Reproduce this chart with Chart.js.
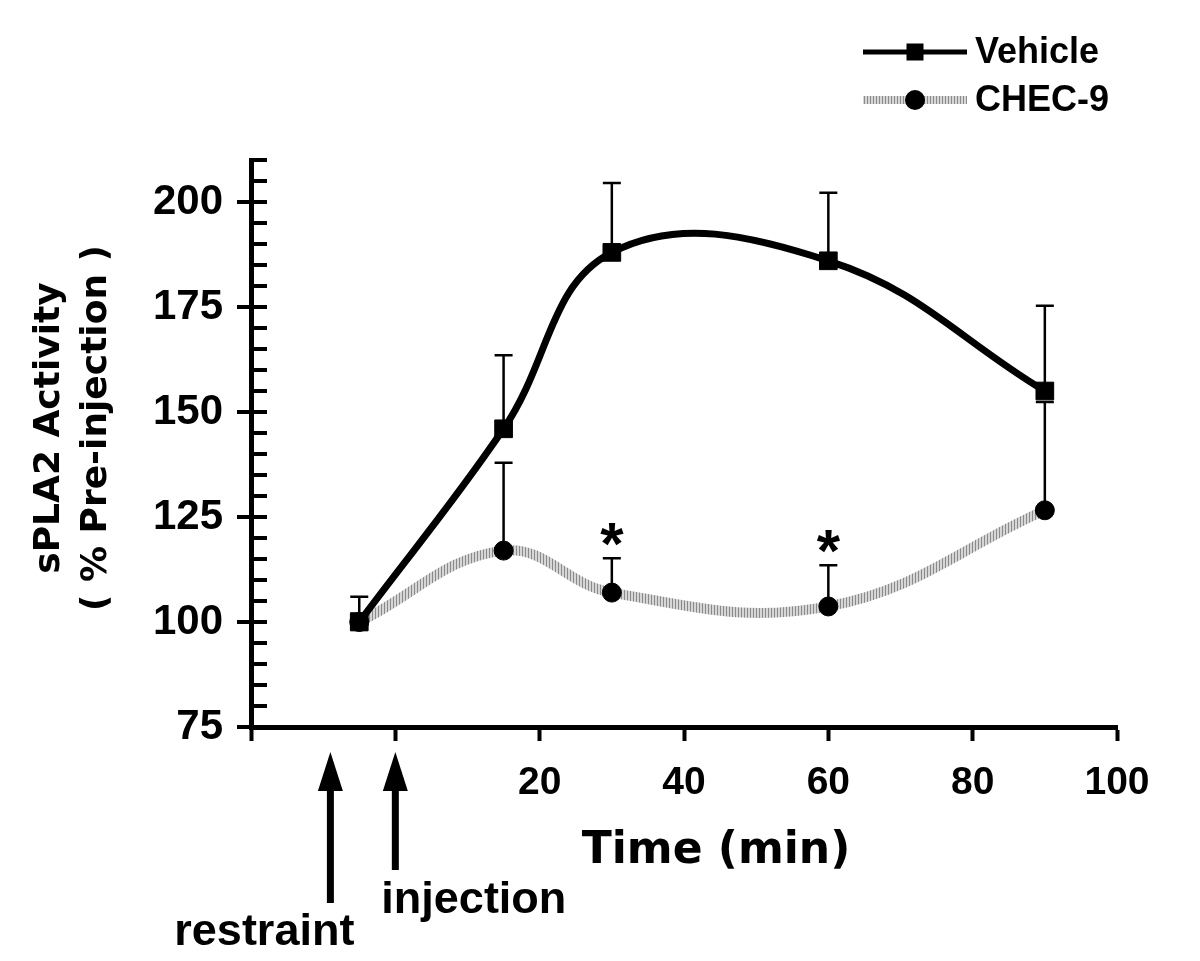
<!DOCTYPE html>
<html>
<head>
<meta charset="utf-8">
<script src="https://cdn.jsdelivr.net/npm/chart.js@4/dist/chart.umd.min.js"></script>
<style>
  html, body { margin: 0; padding: 0; background: #fff; }
</style>
</head>
<body>
<canvas id="myChart" width="1200" height="961"></canvas>
<script>
// values
const times = [-5, 15, 30, 60, 90];
const vehicleMean = [100, 146, 188, 186, 155];
const vehicleSem = [6, 17.5, 16.5, 16.2, 20.3];
const chec9Mean = [100, 117, 107, 103.7, 126.6];
const chec9Sem = [2, 20.9, 8.2, 9.8, 25.8];
const sigTimes = [30, 60]; // * over CHEC-9
const xTickLabels = [20, 40, 60, 80, 100];
const yTickLabels = [75, 100, 125, 150, 175, 200];
const eventTimes = [-9, 0];
const eventLabels = ['restraint', 'injection'];
const xTitle = 'Time (min)';
const yTitle = ['sPLA2 Activity', '( % Pre-injection )'];

const canvas = document.getElementById('myChart');
const ctx = canvas.getContext('2d');

// gray hatched line like the original
function hatch() {
  const c = document.createElement('canvas');
  c.width = 3; c.height = 1;
  const g = c.getContext('2d');
  g.fillStyle = '#d6d6d6';
  g.fillRect(0, 0, 3, 1);
  g.fillStyle = '#8a8a8a';
  g.fillRect(0, 0, 1, 1);
  return ctx.createPattern(c, 'repeat');
}
const grayHatch = hatch();

const errs = [vehicleSem, chec9Sem];
const sans = '"Liberation Sans", Arial, sans-serif';
const wide = '"DejaVu Sans", Verdana, sans-serif';

const errorBars = {
  id: 'errorBars',
  beforeDatasetsDraw(chart) {
    const { ctx, scales: { x, y } } = chart;
    ctx.save();
    ctx.strokeStyle = '#000';
    ctx.lineWidth = 2.5;
    chart.data.datasets.forEach((ds, d) => {
      ds.data.forEach((p, i) => {
        const px = x.getPixelForValue(p.x);
        const y0 = y.getPixelForValue(p.y);
        const y1 = y.getPixelForValue(p.y + errs[d][i]);
        ctx.beginPath();
        ctx.moveTo(px, y0);
        ctx.lineTo(px, y1);
        ctx.moveTo(px - 9, y1);
        ctx.lineTo(px + 9, y1);
        ctx.stroke();
      });
    });
    ctx.restore();
  }
};

// y ticks: major ones cross the axis, minor ones only inside
const yTickMarks = {
  id: 'yTickMarks',
  afterDraw(chart) {
    const { ctx, chartArea, scales: { y } } = chart;
    ctx.save();
    ctx.strokeStyle = '#000';
    ctx.lineWidth = 4;
    y.ticks.forEach(t => {
      const py = Math.round(y.getPixelForValue(t.value));
      const major = yTickLabels.includes(t.value);
      ctx.beginPath();
      ctx.moveTo(chartArea.left - (major ? 14 : 0), py);
      ctx.lineTo(chartArea.left + 16, py);
      ctx.stroke();
    });
    ctx.restore();
  }
};

const notes = {
  id: 'notes',
  afterDraw(chart) {
    const { ctx, chartArea, scales: { x, y } } = chart;
    ctx.save();
    ctx.fillStyle = '#000';
    ctx.strokeStyle = '#000';

    // axis titles (placed off-centre as in the original)
    ctx.font = 'bold 44px ' + wide;
    ctx.textAlign = 'center';
    ctx.textBaseline = 'middle';
    ctx.fillText(xTitle, chartArea.left + 465, 852);
    ctx.save();
    ctx.translate(50, 428);
    ctx.rotate(-Math.PI / 2);
    ctx.font = 'bold 36px ' + wide;
    yTitle.forEach((line, i) => ctx.fillText(line, 0, i * 47));
    ctx.restore();

    // event arrows under the axis
    const tipY = chartArea.bottom + 25;
    const tailY = [903, 870];
    eventTimes.forEach((t, i) => {
      const px = x.getPixelForValue(t);
      ctx.lineWidth = 7;
      ctx.beginPath();
      ctx.moveTo(px, tipY + 30);
      ctx.lineTo(px, tailY[i]);
      ctx.stroke();
      ctx.beginPath();
      ctx.moveTo(px, tipY);
      ctx.lineTo(px - 12.5, tipY + 39);
      ctx.lineTo(px + 12.5, tipY + 39);
      ctx.closePath();
      ctx.fill();
    });
    ctx.font = 'bold 45px ' + sans;
    ctx.textBaseline = 'alphabetic';
    ctx.textAlign = 'right';
    ctx.fillText(eventLabels[0], x.getPixelForValue(eventTimes[0]) + 24, 945);
    ctx.textAlign = 'left';
    ctx.fillText(eventLabels[1], x.getPixelForValue(eventTimes[1]) - 14, 913);

    // significance marks
    ctx.font = 'bold 60px ' + sans;
    ctx.textAlign = 'center';
    sigTimes.forEach(t => {
      const i = times.indexOf(t);
      ctx.fillText('*', x.getPixelForValue(t), y.getPixelForValue(chec9Mean[i] + chec9Sem[i]) + 6);
    });
    ctx.restore();
  }
};

const legendBox = {
  id: 'legendBox',
  afterDraw(chart) {
    const { ctx } = chart;
    const rows = [52, 100];
    chart.data.datasets.forEach((ds, i) => {
      const ly = rows[i];
      ctx.save();
      ctx.strokeStyle = ds.borderColor;
      ctx.lineWidth = ds.borderWidth - 2;
      ctx.beginPath();
      ctx.moveTo(863, ly);
      ctx.lineTo(967, ly);
      ctx.stroke();
      ctx.fillStyle = '#000';
      if (ds.pointStyle === 'rect') {
        ctx.fillRect(915 - 8.5, ly - 8.5, 17, 17);
      } else {
        ctx.beginPath();
        ctx.arc(915, ly, 10, 0, Math.PI * 2);
        ctx.fill();
      }
      ctx.font = 'bold 36px ' + sans;
      ctx.textBaseline = 'middle';
      ctx.textAlign = 'left';
      ctx.fillText(ds.label, 975, ly + 1);
      ctx.restore();
    });
  }
};

new Chart(ctx, {
  type: 'line',
  data: {
    datasets: [{
      label: 'Vehicle',
      data: times.map((t, i) => ({ x: t, y: vehicleMean[i] })),
      borderColor: '#000',
      backgroundColor: '#000',
      borderWidth: 7,
      pointStyle: 'rect',
      pointRadius: 12.5,
      pointBorderWidth: 1,
      pointBackgroundColor: '#000',
      pointBorderColor: '#000',
      tension: 0.4
    }, {
      label: 'CHEC-9',
      data: times.map((t, i) => ({ x: t, y: chec9Mean[i] })),
      borderColor: grayHatch,
      backgroundColor: '#000',
      borderWidth: 10,
      pointStyle: 'circle',
      pointRadius: 9.5,
      pointBorderWidth: 1,
      pointBackgroundColor: '#000',
      pointBorderColor: '#000',
      tension: 0.4
    }]
  },
  options: {
    responsive: false,
    animation: false,
    events: [],
    layout: {
      padding: { top: 160, right: 83, left: 0, bottom: 0 }
    },
    plugins: {
      legend: { display: false },
      tooltip: { enabled: false }
    },
    scales: {
      x: {
        type: 'linear',
        min: -20,
        max: 100,
        ticks: {
          stepSize: 20,
          autoSkip: false,
          maxRotation: 0,
          padding: 19,
          color: '#000',
          font: { family: sans, weight: 'bold', size: 39 },
          callback: v => xTickLabels.includes(v) ? v : ''
        },
        grid: { drawOnChartArea: false, tickLength: 14, tickWidth: 4, tickColor: '#000' },
        border: { color: '#000', width: 5 },
        afterFit: s => { s.height = 234; }
      },
      y: {
        min: 75,
        max: 210,
        ticks: {
          stepSize: 5,
          autoSkip: false,
          padding: 28,
          color: '#000',
          font: { family: sans, weight: 'bold', size: 42 },
          callback: v => yTickLabels.includes(v) ? v : ''
        },
        grid: { drawOnChartArea: false, drawTicks: false },
        border: { color: '#000', width: 5 },
        afterFit: s => { s.width = 251; }
      }
    }
  },
  plugins: [errorBars, yTickMarks, notes, legendBox]
});
</script>
</body>
</html>
